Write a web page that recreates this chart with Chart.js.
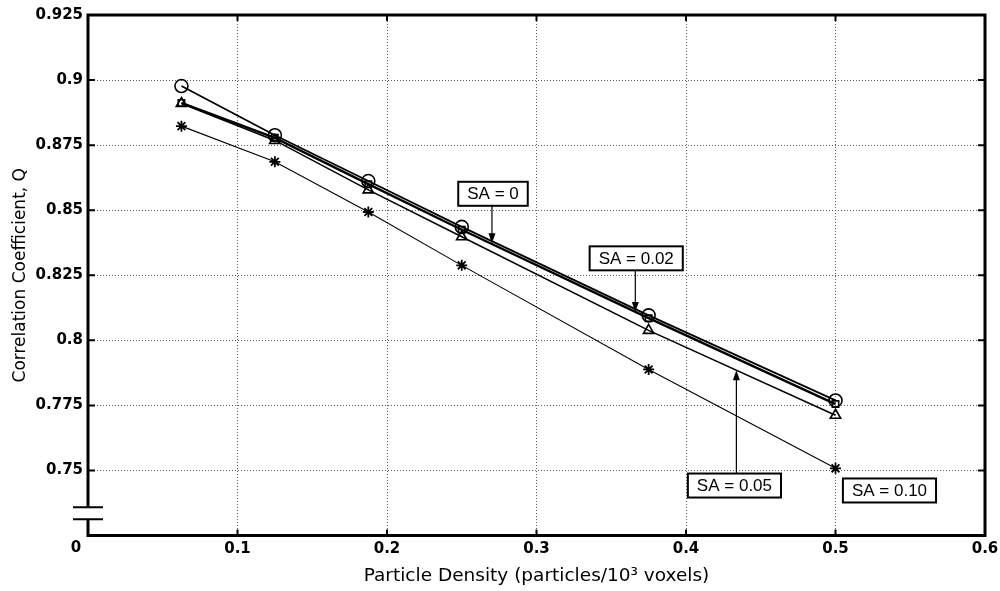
<!DOCTYPE html>
<html>
<head>
<meta charset="utf-8">
<script src="https://cdn.jsdelivr.net/npm/chart.js@4.4.0/dist/chart.umd.min.js"></script>
<style>
html, body { margin: 0; padding: 0; background: #fff; overflow: hidden; }
#chart { display: block; }
</style>
</head>
<body>
<canvas id="chart" width="1000" height="591"></canvas>
<script>
/* global Chart */

// particle density (particles / 10^3 voxels)
const density = [0.0625, 0.125, 0.1875, 0.25, 0.375, 0.5];

// correlation coefficient Q for each SA level
const qSA000 = [0.8977, 0.8788, 0.8612, 0.8436, 0.8096, 0.7769];
const qSA002 = [0.8912, 0.8778, 0.8600, 0.8425, 0.8085, 0.7755];
const qSA005 = [0.8910, 0.8768, 0.8578, 0.8398, 0.8038, 0.7712];
const qSA010 = [0.8823, 0.8686, 0.8493, 0.8288, 0.7888, 0.7508];

const xTicks = [0, 0.1, 0.2, 0.3, 0.4, 0.5, 0.6];
const xTickLabels = ['', '0.1', '0.2', '0.3', '0.4', '0.5', '0.6'];
const yTicks = [0.75, 0.775, 0.8, 0.825, 0.85, 0.875, 0.9, 0.925];
const yTickLabels = ['0.75', '0.775', '0.8', '0.825', '0.85', '0.875', '0.9', '0.925'];

// axis is broken below 0.75; the bottom edge is labelled 0
const yBottom = 0.725;
const yBottomLabel = '0';
const yBreak = [0.7359, 0.7312];

// call-out labels (box centre and arrow tip in data units)
const notes = [
    { text: 'SA = 0', x: 0.2709, y: 0.8563, tipX: 0.2702, tipY: 0.8373 },
    { text: 'SA = 0.02', x: 0.3667, y: 0.8315, tipX: 0.3661, tipY: 0.8109 },
    { text: 'SA = 0.05', x: 0.4324, y: 0.7442, tipX: 0.4337, tipY: 0.7885 },
    { text: 'SA = 0.10', x: 0.5361, y: 0.7423 }
];

const axisFont = '"DejaVu Sans", Verdana, sans-serif';
const noteFont = '"Liberation Sans", Arial, sans-serif';

function series(label, ys, style, radius, lineWidth, pointWidth) {
    return {
        label,
        data: density.map((x, i) => ({ x, y: ys[i] })),
        showLine: true,
        borderColor: '#000',
        backgroundColor: 'rgba(0,0,0,0)',
        borderWidth: lineWidth,
        pointStyle: style,
        pointRadius: radius,
        pointBorderWidth: pointWidth,
        pointBorderColor: '#000',
        pointBackgroundColor: 'rgba(0,0,0,0)',
        tension: 0
    };
}

const decorations = {
    id: 'decorations',
    afterDraw(chart) {
        const { ctx, chartArea: a, scales: { x: xs, y: ys } } = chart;
        ctx.save();
        ctx.strokeStyle = '#000';
        ctx.fillStyle = '#000';

        // inward tick marks
        ctx.lineWidth = 2;
        ctx.beginPath();
        xTicks.forEach((v) => {
            const px = xs.getPixelForValue(v);
            ctx.moveTo(px, a.bottom); ctx.lineTo(px, a.bottom - 6);
            ctx.moveTo(px, a.top); ctx.lineTo(px, a.top + 6);
        });
        yTicks.forEach((v) => {
            const py = ys.getPixelForValue(v);
            ctx.moveTo(a.left, py); ctx.lineTo(a.left + 7, py);
            ctx.moveTo(a.right, py); ctx.lineTo(a.right - 7, py);
        });
        ctx.stroke();

        // heavy frame
        ctx.lineWidth = 3;
        ctx.strokeRect(a.left, a.top, a.right - a.left, a.bottom - a.top);

        // axis break on the y axis
        const b1 = ys.getPixelForValue(yBreak[0]);
        const b2 = ys.getPixelForValue(yBreak[1]);
        ctx.fillStyle = '#fff';
        ctx.fillRect(a.left - 3, b1, 6, b2 - b1);
        ctx.lineWidth = 2;
        ctx.beginPath();
        ctx.moveTo(a.left - 15, b1); ctx.lineTo(a.left + 15, b1);
        ctx.moveTo(a.left - 15, b2); ctx.lineTo(a.left + 15, b2);
        ctx.stroke();

        // "0" at the bottom left corner
        ctx.fillStyle = '#000';
        ctx.font = 'bold 15px ' + axisFont;
        ctx.textAlign = 'center';
        ctx.textBaseline = 'top';
        ctx.fillText(yBottomLabel, a.left - 12, ys.getPixelForValue(yBottom) + 5);

        // call-outs
        ctx.font = '17px ' + noteFont;
        notes.forEach((n) => {
            const cx = xs.getPixelForValue(n.x);
            const cy = ys.getPixelForValue(n.y);
            const w = ctx.measureText(n.text).width + 18;
            const h = 24;
            if (n.tipX !== undefined) {
                const tx = xs.getPixelForValue(n.tipX);
                const ty = ys.getPixelForValue(n.tipY);
                const dir = ty > cy ? 1 : -1;
                const fromY = cy + dir * h / 2;
                ctx.lineWidth = 1.2;
                ctx.beginPath();
                ctx.moveTo(tx, fromY);
                ctx.lineTo(tx, ty - dir * 8);
                ctx.stroke();
                ctx.beginPath();
                ctx.moveTo(tx, ty);
                ctx.lineTo(tx - 3.5, ty - dir * 10);
                ctx.lineTo(tx + 3.5, ty - dir * 10);
                ctx.closePath();
                ctx.fill();
            }
            ctx.fillStyle = '#fff';
            ctx.fillRect(cx - w / 2, cy - h / 2, w, h);
            ctx.lineWidth = 2;
            ctx.strokeRect(cx - w / 2, cy - h / 2, w, h);
            ctx.fillStyle = '#000';
            ctx.textAlign = 'center';
            ctx.textBaseline = 'middle';
            ctx.fillText(n.text, cx, cy + 1);
        });
        ctx.restore();
    }
};

const gridStyle = { color: '#5a5a5a', lineWidth: 1, drawTicks: false };

new Chart(document.getElementById('chart').getContext('2d'), {
    type: 'scatter',
    data: {
        datasets: [
            series('SA = 0', qSA000, 'circle', 6.5, 1.8, 1.6),
            series('SA = 0.02', qSA002, 'rect', 4.5, 2.4, 1.6),
            series('SA = 0.05', qSA005, 'triangle', 6, 1.5, 1.6),
            series('SA = 0.10', qSA010, 'star', 5.5, 1.1, 1.8)
        ]
    },
    options: {
        responsive: false,
        animation: false,
        devicePixelRatio: 1,
        layout: { padding: { top: 15, right: 15, left: 0, bottom: 0 } },
        plugins: {
            legend: { display: false },
            tooltip: { enabled: false }
        },
        scales: {
            x: {
                type: 'linear',
                min: 0,
                max: 0.6,
                afterBuildTicks: (s) => { s.ticks = xTicks.map((v) => ({ value: v })); },
                afterFit: (s) => { s.height = 55.5; s.paddingLeft = 0; s.paddingRight = 0; },
                ticks: {
                    callback: (v, i) => xTickLabels[i],
                    font: { family: axisFont, size: 15, weight: 'bold' },
                    color: '#000',
                    padding: 5,
                    maxRotation: 0,
                    autoSkip: false
                },
                grid: gridStyle,
                border: { display: false, dash: [1, 2] },
                title: {
                    display: true,
                    text: 'Particle Density (particles/10³ voxels)',
                    font: { family: axisFont, size: 18.5 },
                    color: '#000',
                    padding: { top: 0, bottom: 4 }
                }
            },
            y: {
                type: 'linear',
                min: yBottom,
                max: 0.925,
                afterBuildTicks: (s) => { s.ticks = yTicks.map((v) => ({ value: v })); },
                afterFit: (s) => { s.width = 88; s.paddingTop = 0; s.paddingBottom = 0; },
                ticks: {
                    callback: (v, i) => yTickLabels[i],
                    font: { family: axisFont, size: 15, weight: 'bold' },
                    color: '#000',
                    padding: 5,
                    autoSkip: false
                },
                grid: gridStyle,
                border: { display: false, dash: [1, 2] },
                title: {
                    display: true,
                    text: 'Correlation Coefficient, Q',
                    font: { family: axisFont, size: 17 },
                    color: '#000',
                    padding: { top: 10, bottom: 0 }
                }
            }
        }
    },
    plugins: [decorations]
});
</script>
</body>
</html>
